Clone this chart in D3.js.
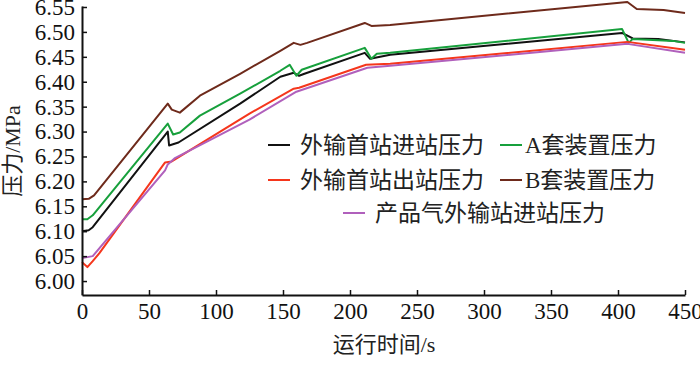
<!DOCTYPE html>
<html><head><meta charset="utf-8">
<script src="https://cdn.jsdelivr.net/npm/d3@7"></script>
<style>
html,body{margin:0;padding:0;background:#fff;}
text{font-family:"Liberation Serif","Noto Sans CJK SC",serif;}
</style></head>
<body><svg id="c" width="700" height="367"></svg>
<script>
// ---- data ----
const xTicks = [0,50,100,150,200,250,300,350,400,450];
const yTicks = [6.00,6.05,6.10,6.15,6.20,6.25,6.30,6.35,6.40,6.45,6.50,6.55];
const xTitle = "运行时间/s";
const yTitle = "压力/MPa";

const seriesNames = ["外输首站进站压力","A套装置压力","外输首站出站压力","B套装置压力","产品气外输站进站压力"];
const seriesColors = ["#111111","#17a03c","#f5361c","#6e2a1b","#b060bc"];

const inletT  = [0,5,8,64,65,72,118,148,158,162,166,211,215,230,403,411,430,450];
const inletP  = [6.100,6.102,6.108,6.300,6.272,6.278,6.356,6.410,6.418,6.412,6.416,6.458,6.446,6.454,6.498,6.487,6.486,6.479];
const aT      = [0,4,8,64,68,73,88,118,148,155,160,164,211,216,220,230,403,408,411,441,450];
const aP      = [6.124,6.124,6.132,6.316,6.294,6.298,6.332,6.376,6.422,6.434,6.412,6.424,6.468,6.446,6.456,6.458,6.506,6.478,6.486,6.482,6.478];
const outT    = [0,4,8,13,62,67,125,158,162,212,230,407,450];
const outP    = [6.038,6.028,6.040,6.056,6.238,6.240,6.336,6.386,6.388,6.434,6.436,6.480,6.464];
const bT      = [0,5,9,64,67,73,88,118,148,158,163,168,211,216,230,407,414,434,450];
const bP      = [6.164,6.165,6.172,6.356,6.344,6.338,6.372,6.416,6.462,6.478,6.474,6.478,6.518,6.512,6.514,6.560,6.546,6.544,6.538];
const prodT   = [0,8,62,64,69,125,160,213,230,407,450];
const prodP   = [6.046,6.050,6.222,6.234,6.246,6.324,6.380,6.428,6.432,6.476,6.458];

const seriesT = [inletT,aT,outT,bT,prodT];
const seriesP = [inletP,aP,outP,bP,prodP];

// ---- chart ----
const svg = d3.select("#c");
const x = d3.scaleLinear().domain([0,450]).range([82,685]);
const y = d3.scaleLinear().domain([5.972,6.552]).range([295,6]);

const line = d3.line().x(d=>x(d[0])).y(d=>y(d[1]));
seriesT.forEach((ts,i)=>{
  const pts = ts.map((t,j)=>[t,seriesP[i][j]]);
  svg.append("path").attr("d",line(pts)).attr("fill","none")
    .attr("stroke",seriesColors[i]).attr("stroke-width",2).attr("stroke-linejoin","round");
});

const gx = svg.append("g").attr("transform","translate(0,295)")
  .call(d3.axisBottom(x).tickValues(xTicks).tickSizeInner(-5).tickSizeOuter(0).tickPadding(8).tickFormat(d3.format("d")));
const gy = svg.append("g").attr("transform","translate(82,0)")
  .call(d3.axisLeft(y).tickValues(yTicks).tickSizeInner(-5).tickSizeOuter(0).tickPadding(7).tickFormat(d3.format(".2f")));
[gx,gy].forEach(g=>{
  g.select(".domain").attr("stroke","#111").attr("stroke-width",2);
  g.selectAll(".tick line").attr("stroke","#111").attr("stroke-width",1.5);
  g.selectAll(".tick text").attr("font-size",23).attr("fill","#111")
   .attr("font-family","'Liberation Serif',serif");
});

svg.append("text").attr("x",384).attr("y",352).attr("text-anchor","middle")
  .attr("font-size",22).attr("fill","#222").text(xTitle);
svg.append("text").attr("transform","translate(20,151) rotate(-90)").attr("text-anchor","middle")
  .attr("font-size",22).attr("fill","#222").text(yTitle);

// legend
const legPos = [[268,145],[500,145],[268,180],[500,180],[343,213]];
seriesNames.forEach((n,i)=>{
  const [lx,ly] = legPos[i];
  svg.append("line").attr("x1",lx).attr("x2",lx+22).attr("y1",ly).attr("y2",ly)
    .attr("stroke",seriesColors[i]).attr("stroke-width",2);
  svg.append("text").attr("x",lx+(i%2===1?25:32)).attr("y",ly+8).attr("font-size",23)
    .attr("fill","#222").text(n);
});
</script></body></html>
